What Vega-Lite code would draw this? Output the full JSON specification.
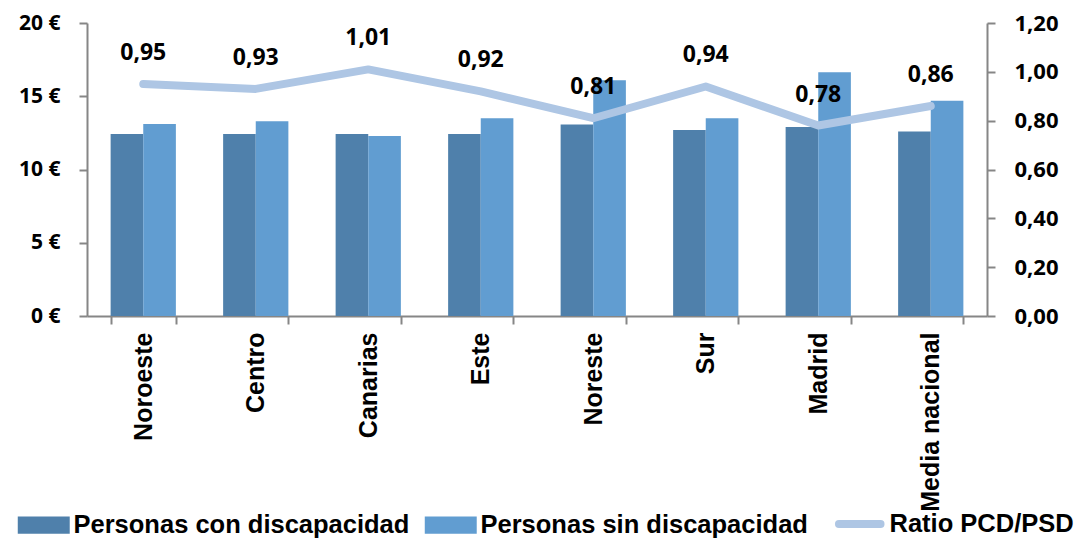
{
  "$schema": "https://vega.github.io/schema/vega-lite/v6.json",
  "width": 900,
  "height": 293,
  "autosize": {"type": "none"},
  "padding": {"left": 87, "top": 23, "right": 90, "bottom": 222},
  "config": {
    "locale": {"number": {"decimal": ",", "thousands": ".", "grouping": [3], "currency": ["", " €"]}},
    "view": {"stroke": null},
    "font": "Open Sans"
  },
  "datasets": {
    "barras": [
      {"region": "Noroeste", "serie": "Personas con discapacidad", "valor": 12.42},
      {"region": "Noroeste", "serie": "Personas sin discapacidad", "valor": 13.1},
      {"region": "Centro", "serie": "Personas con discapacidad", "valor": 12.42},
      {"region": "Centro", "serie": "Personas sin discapacidad", "valor": 13.3},
      {"region": "Canarias", "serie": "Personas con discapacidad", "valor": 12.42},
      {"region": "Canarias", "serie": "Personas sin discapacidad", "valor": 12.29},
      {"region": "Este", "serie": "Personas con discapacidad", "valor": 12.42},
      {"region": "Este", "serie": "Personas sin discapacidad", "valor": 13.5},
      {"region": "Noreste", "serie": "Personas con discapacidad", "valor": 13.08},
      {"region": "Noreste", "serie": "Personas sin discapacidad", "valor": 16.1},
      {"region": "Sur", "serie": "Personas con discapacidad", "valor": 12.7},
      {"region": "Sur", "serie": "Personas sin discapacidad", "valor": 13.5},
      {"region": "Madrid", "serie": "Personas con discapacidad", "valor": 12.9},
      {"region": "Madrid", "serie": "Personas sin discapacidad", "valor": 16.63},
      {"region": "Media nacional", "serie": "Personas con discapacidad", "valor": 12.6},
      {"region": "Media nacional", "serie": "Personas sin discapacidad", "valor": 14.7}
    ],
    "ratio": [
      {"region": "Noroeste", "ratio": 0.95},
      {"region": "Centro", "ratio": 0.93},
      {"region": "Canarias", "ratio": 1.01},
      {"region": "Este", "ratio": 0.92},
      {"region": "Noreste", "ratio": 0.81},
      {"region": "Sur", "ratio": 0.94},
      {"region": "Madrid", "ratio": 0.78},
      {"region": "Media nacional", "ratio": 0.86}
    ]
  },
  "layer": [
    {
      "data": {"name": "barras"},
      "mark": {"type": "bar"},
      "encoding": {
        "x": {
          "field": "region", "type": "nominal",
          "scale": {"domain": ["Noroeste", "Centro", "Canarias", "Este", "Noreste", "Sur", "Madrid", "Media nacional"], "paddingInner": 0.42, "paddingOuter": 0.21},
          "axis": {
            "title": null, "labelAngle": 270, "labelFont": "Liberation Sans", "labelFontWeight": "bold",
            "labelFontSize": 25, "labelColor": "black", "labelPadding": 8, "labelLimit": 0,
            "tickBand": "extent", "tickSize": 8, "tickWidth": 2, "tickColor": "#868686",
            "domainColor": "#868686", "domainWidth": 2
          }
        },
        "xOffset": {"field": "serie", "type": "nominal", "sort": ["Personas con discapacidad", "Personas sin discapacidad"]},
        "y": {
          "field": "valor", "type": "quantitative",
          "scale": {"domain": [0, 20]},
          "axis": {
            "title": null, "values": [0, 5, 10, 15, 20], "labelExpr": "datum.value + ' €'", "grid": false,
            "labelFont": "Open Sans", "labelFontWeight": "bold", "labelFontSize": 21, "labelColor": "black",
            "labelPadding": 19, "tickSize": 8, "tickWidth": 2, "tickColor": "#868686",
            "domainColor": "#868686", "domainWidth": 2
          }
        },
        "color": {
          "field": "serie", "type": "nominal",
          "scale": {
            "domain": ["Personas con discapacidad", "Personas sin discapacidad", "Ratio PCD/PSD"],
            "range": ["#4F80AB", "#619DD1", "#AEC6E4"]
          },
          "legend": {
            "title": null, "orient": "none", "legendX": -56, "legendY": 488, "direction": "horizontal",
            "labelFont": "Liberation Sans", "labelFontWeight": "bold", "labelFontSize": 25.5,
            "labelColor": "black", "labelLimit": 0, "symbolSize": 1200, "labelOffset": 17, "columnPadding": 14,
            "symbolOpacity": 1,
            "encode": {
              "symbols": {
                "update": {
                  "shape": {"signal": "datum.label === 'Ratio PCD/PSD' ? 'M-1.2,0H1.2' : 'M-1.5,-0.5H1.5V0.5H-1.5Z'"},
                  "fill": {"signal": "datum.label === 'Ratio PCD/PSD' ? 'transparent' : (datum.label === 'Personas con discapacidad' ? '#4F80AB' : '#619DD1')"},
                  "stroke": {"signal": "datum.label === 'Ratio PCD/PSD' ? '#AEC6E4' : 'transparent'"},
                  "strokeWidth": {"signal": "datum.label === 'Ratio PCD/PSD' ? 8 : 0"},
                  "strokeCap": {"value": "round"},
                  "opacity": {"value": 1}
                }
              }
            }
          }
        }
      }
    },
    {
      "data": {"name": "ratio"},
      "layer": [
        {
          "mark": {"type": "line", "strokeWidth": 8, "strokeCap": "round", "strokeJoin": "round"},
          "encoding": {
            "x": {"field": "region", "type": "nominal"},
            "y": {
              "field": "ratio", "type": "quantitative",
              "scale": {"domain": [0, 1.2]},
              "axis": {
                "orient": "right", "title": null, "values": [0, 0.2, 0.4, 0.6, 0.8, 1.0, 1.2], "format": ".2f", "grid": false,
                "labelFont": "Open Sans", "labelFontWeight": "bold", "labelFontSize": 22, "labelColor": "black",
                "labelPadding": 19, "tickSize": 8, "tickWidth": 2, "tickColor": "#868686",
                "domainColor": "#868686", "domainWidth": 2
              }
            },
            "color": {"datum": "Ratio PCD/PSD"}
          }
        },
        {
          "mark": {"type": "text", "dy": -31, "font": "Open Sans", "fontWeight": "bold", "fontSize": 23, "color": "black"},
          "encoding": {
            "x": {"field": "region", "type": "nominal"},
            "y": {"field": "ratio", "type": "quantitative"},
            "text": {"field": "ratio", "type": "quantitative", "format": ".2f"}
          }
        }
      ]
    }
  ],
  "resolve": {"scale": {"y": "independent"}}
}
